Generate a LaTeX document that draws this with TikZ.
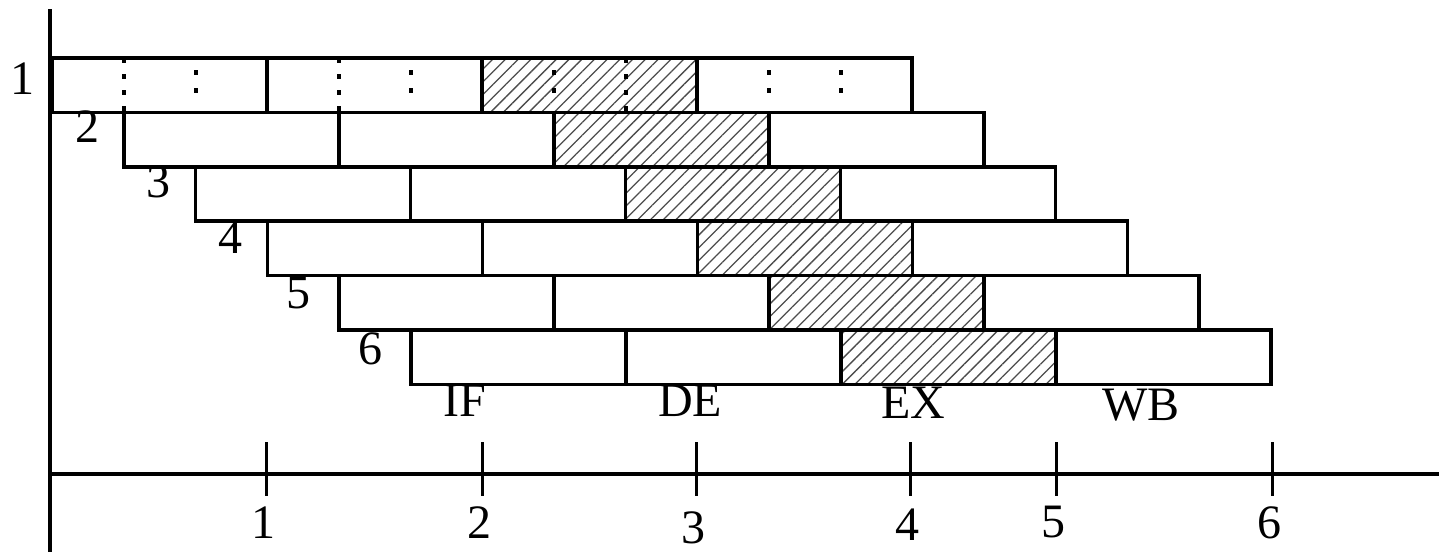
\documentclass[tikz,border=0pt]{standalone}
\usepackage{fontspec}
\setmainfont{Liberation Serif}
\usetikzlibrary{patterns.meta}

\begin{document}
\begin{tikzpicture}[x=1pt,y=-1pt,
    stage/.style={draw,line width=3.5pt},
    hatched/.style={pattern={Lines[angle=45,distance=9pt,line width=1.3pt]},pattern color=black!70},
    lbl/.style={anchor=base,inner sep=0pt,font=\fontsize{48}{48}\selectfont}]
            \useasboundingbox (0,0) rectangle (1439,552);
            % axes
            \draw[line width=3.5pt] (50,9) -- (50,552);
            \draw[line width=3.5pt] (50,474) -- (1439,474);
            % six overlapped instructions, four stages each, EX stage hatched
            \foreach \i in {0,...,5} {
                \pgfmathsetmacro{\s}{52+\i*71.8}
                \pgfmathsetmacro{\t}{58+\i*54.4}
                \fill[hatched] (\s+430,\t) rectangle ++(215,54.4);
                \foreach \k in {0,...,3}
                    \draw[stage] (\s+\k*215,\t) rectangle ++(215,54.4);
            }
            % sub-cycle marks in the first instruction
            \foreach \x in {124,339,626}
                \draw[line width=3.5pt,dash pattern=on 5pt off 11pt] (\x,58) -- (\x,114);
            \foreach \x in {196,411,554,769,841}
                \draw[line width=3.5pt,dash pattern=on 5pt off 13pt] (\x,70) -- (\x,96);
            % instruction numbers
            \node[lbl] (r1) at (22,94) {1};
            \node[lbl] (r2) at (87,142) {2};
            \node[lbl] (r3) at (158,197) {3};
            \node[lbl] (r4) at (230,253) {4};
            \node[lbl] (r5) at (298,308) {5};
            \node[lbl] (r6) at (370,364) {6};
            % stage names
            \node[lbl] (ifl) at (465,416) {IF};
            \node[lbl] (del) at (690,416) {DE};
            \node[lbl] (exl) at (913,418) {EX};
            \node[lbl] (wbl) at (1141,420) {WB};
            % time ticks
            \foreach \x/\n/\b in {266/1/538,482/2/538,696/3/543,910/4/540,1056/5/537,1272/6/538} {
                \draw[line width=3pt] (\x,442) -- (\x,496);
                \node[lbl] (t\n) at (\x-3,\b) {\n};
            }
        \end{tikzpicture}
\end{document}
